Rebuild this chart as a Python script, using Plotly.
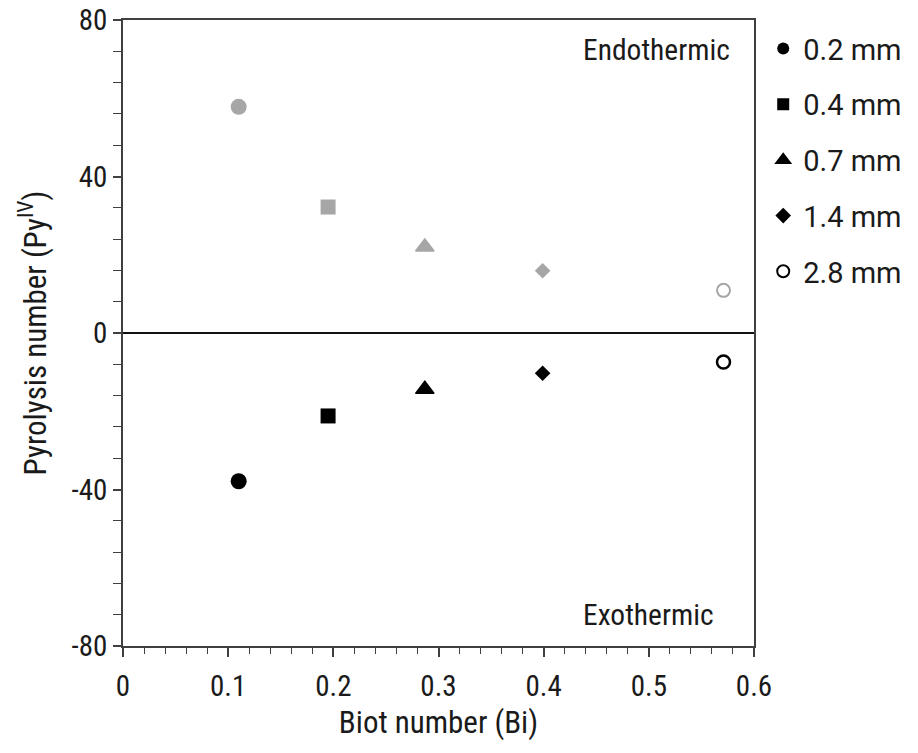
import plotly.graph_objects as go

# Particle sizes, Biot numbers and pyrolysis numbers
particle_sizes = ["0.2 mm", "0.4 mm", "0.7 mm", "1.4 mm", "2.8 mm"]
biot = [0.110, 0.195, 0.287, 0.399, 0.571]
py_endothermic = [57.8, 32.2, 22.0, 15.9, 10.9]
py_exothermic = [-37.9, -21.2, -14.4, -10.3, -7.4]

x_ticks = [0, 0.1, 0.2, 0.3, 0.4, 0.5, 0.6]
x_tick_labels = ["0", "0.1", "0.2", "0.3", "0.4", "0.5", "0.6"]
y_ticks = [-80, -40, 0, 40, 80]
y_tick_labels = ["-80", "-40", "0", "40", "80"]

symbols = ["circle", "square", "triangle-up", "diamond", "circle-open"]
marker_sizes = [16, 15, 16, 12, 13]
edge_widths = [0, 0, 1.5, 0, 2.5]
GRAY = "#a6a6a6"
BLACK = "#000000"
NARROW = "Liberation Sans Narrow, Roboto Condensed, Arial Narrow, sans-serif"
TEXT = "#1a1a1a"

fig = go.Figure()

for i, label in enumerate(particle_sizes):
    # endothermic branch (grey)
    fig.add_trace(go.Scatter(
        x=[biot[i]], y=[py_endothermic[i]], mode="markers", name=label,
        showlegend=False, legendgroup=label,
        marker=dict(symbol=symbols[i], size=marker_sizes[i], color=GRAY,
                    line=dict(color=GRAY, width=min(edge_widths[i], 2))),
    ))
    # exothermic branch (black), shown in legend
    fig.add_trace(go.Scatter(
        x=[biot[i]], y=[py_exothermic[i]], mode="markers", name=label,
        showlegend=True, legendgroup=label,
        marker=dict(symbol=symbols[i], size=marker_sizes[i], color=BLACK,
                    line=dict(color=BLACK, width=edge_widths[i])),
    ))

axis_color = "#404040"

fig.update_xaxes(
    range=[0, 0.6], tickvals=x_ticks, ticktext=x_tick_labels,
    ticks="outside", ticklen=9, tickwidth=1.5, tickcolor=axis_color,
    minor=dict(dtick=0.02, ticks="outside", ticklen=6, tickwidth=1.2, tickcolor=axis_color),
    showline=True, linecolor=axis_color, linewidth=1.5, mirror=True,
    showgrid=False, zeroline=False, automargin=False, ticklabelstandoff=4,
    tickfont=dict(family=NARROW, size=29, color=TEXT),
    title=dict(text="Biot number (Bi)", font=dict(family=NARROW, size=31, color=TEXT), standoff=10),
)
fig.update_yaxes(
    range=[-80, 80], tickvals=y_ticks, ticktext=y_tick_labels,
    ticks="outside", ticklen=8, tickwidth=1.5, tickcolor=axis_color,
    minor=dict(dtick=8, ticks="outside", ticklen=8, tickwidth=1.2, tickcolor=axis_color),
    showline=True, linecolor=axis_color, linewidth=1.5, mirror=True,
    showgrid=False, zeroline=True, zerolinecolor="#111111", zerolinewidth=2,
    automargin=False,
    tickfont=dict(family=NARROW, size=29, color=TEXT),
    title=dict(text="Pyrolysis number (Py<sup>IV</sup>)", font=dict(family=NARROW, size=31, color=TEXT), standoff=16),
)

fig.add_annotation(x=0.726, y=0.952, xref="paper", yref="paper", text="Endothermic",
                   showarrow=False, xanchor="left", yanchor="middle",
                   font=dict(family=NARROW, size=29.5, color=TEXT))
fig.add_annotation(x=0.726, y=0.05, xref="paper", yref="paper", text="Exothermic",
                   showarrow=False, xanchor="left", yanchor="middle",
                   font=dict(family=NARROW, size=29.5, color=TEXT))

fig.update_layout(
    width=918, height=753,
    margin=dict(l=123, r=163, t=20, b=107),
    plot_bgcolor="white", paper_bgcolor="white",
    legend=dict(x=1.013, xanchor="left", y=0.995, yanchor="top",
                traceorder="grouped", tracegroupgap=15, itemsizing="constant",
                font=dict(family="Roboto", size=29, color=TEXT),
                bgcolor="rgba(0,0,0,0)"),
)

fig.write_html("out.html")
